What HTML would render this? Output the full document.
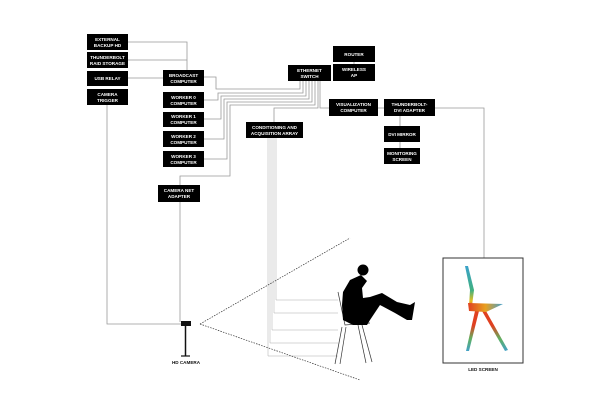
<!DOCTYPE html>
<html><head><meta charset="utf-8"><style>
html,body{margin:0;padding:0;background:#fff;width:600px;height:420px;overflow:hidden}
text{font-family:"Liberation Sans",sans-serif;font-weight:bold;font-size:4.6px;fill:#fff;text-anchor:middle}
.l{fill:#111}
</style></head><body>
<svg width="600" height="420" viewBox="0 0 600 420" xmlns="http://www.w3.org/2000/svg">
<g fill="none" stroke="#999" stroke-width="0.8">
<polyline points="128,42 187,42 187,70"/>
<polyline points="128,60 187,60"/>
<line x1="128" y1="78" x2="163" y2="78"/>
<polyline points="107,105 107,324 182,324"/>
<polyline points="204,77 216,77 216,89 300,89 300,81"/>
<polyline points="204,100 218,100 218,93 303,93 303,81"/>
<polyline points="204,119 221,119 221,96 306,96 306,81"/>
<polyline points="204,139 224,139 224,99 309,99 309,81"/>
<polyline points="204,159 227,159 227,102 312,102 312,81"/>
<polyline points="180,185 180,176 230,176 230,105 315,105 315,81"/>
<polyline points="274,122 274,108 318,108 318,81"/>
<polyline points="320,81 320,108 329,108"/>
<line x1="378" y1="108" x2="384" y2="108"/>
<polyline points="435,108 484,108 484,258"/>
<line x1="400" y1="116" x2="400" y2="126"/>
<line x1="400" y1="142" x2="400" y2="148"/>
<line x1="354" y1="62" x2="354" y2="64"/>
<line x1="180" y1="202" x2="180" y2="322"/>
</g>
<g fill="none" stroke="#aaa" stroke-width="0.5">
<line x1="268" y1="138" x2="268" y2="356"/>
<line x1="270" y1="138" x2="270" y2="343"/>
<line x1="272" y1="138" x2="272" y2="330"/>
<line x1="274" y1="138" x2="274" y2="313"/>
<line x1="276" y1="138" x2="276" y2="300"/>
<polyline points="276,300 338,300"/>
<polyline points="274,313 338,313"/>
<polyline points="272,330 338,330"/>
<polyline points="270,343 338,343"/>
<polyline points="268,356 338,356"/>
</g>
<g stroke="#333" stroke-width="0.7" stroke-dasharray="1.5,1.2" fill="none">
<line x1="200" y1="324" x2="350" y2="238"/>
<line x1="200" y1="324" x2="360" y2="380"/>
</g>
<g fill="#000">
<rect x="87" y="34" width="41" height="16"/>
<rect x="87" y="52" width="41" height="16"/>
<rect x="87" y="71" width="41" height="15"/>
<rect x="87" y="89" width="41" height="16"/>
<rect x="163" y="70" width="41" height="16"/>
<rect x="163" y="92" width="41" height="16"/>
<rect x="163" y="112" width="41" height="15"/>
<rect x="163" y="131" width="41" height="16"/>
<rect x="163" y="151" width="41" height="16"/>
<rect x="158" y="185" width="42" height="17"/>
<rect x="288" y="65" width="43" height="16"/>
<rect x="333" y="46" width="42" height="16"/>
<rect x="333" y="64" width="42" height="17"/>
<rect x="246" y="122" width="57" height="16"/>
<rect x="329" y="99" width="49" height="17"/>
<rect x="384" y="99" width="51" height="17"/>
<rect x="384" y="126" width="36" height="16"/>
<rect x="384" y="148" width="36" height="16"/>
</g>
<text x="107.5" y="41">EXTERNAL</text><text x="107.5" y="47">BACKUP HD</text>
<text x="107.5" y="59">THUNDERBOLT</text><text x="107.5" y="65">RAID STORAGE</text>
<text x="107.5" y="80">USB RELAY</text>
<text x="107.5" y="96">CAMERA</text><text x="107.5" y="102">TRIGGER</text>
<text x="183.5" y="77">BROADCAST</text><text x="183.5" y="83">COMPUTER</text>
<text x="183.5" y="99">WORKER 0</text><text x="183.5" y="105">COMPUTER</text>
<text x="183.5" y="118">WORKER 1</text><text x="183.5" y="124">COMPUTER</text>
<text x="183.5" y="138">WORKER 2</text><text x="183.5" y="144">COMPUTER</text>
<text x="183.5" y="158">WORKER 3</text><text x="183.5" y="164">COMPUTER</text>
<text x="179" y="192">CAMERA NET</text><text x="179" y="198">ADAPTER</text>
<text x="309.5" y="72">ETHERNET</text><text x="309.5" y="78">SWITCH</text>
<text x="354" y="56">ROUTER</text>
<text x="354" y="71">WIRELESS</text><text x="354" y="77">AP</text>
<text x="274.5" y="129">CONDITIONING AND</text><text x="274.5" y="135">ACQUISITION ARRAY</text>
<text x="353.5" y="106">VISUALIZATION</text><text x="353.5" y="112">COMPUTER</text>
<text x="409.5" y="106">THUNDERBOLT-</text><text x="409.5" y="112">DVI ADAPTER</text>
<text x="402" y="136">DVI MIRROR</text>
<text x="402" y="155">MONITORING</text><text x="402" y="161">SCREEN</text>
<!-- camera -->
<rect x="181" y="321" width="10" height="5" fill="#111"/>
<line x1="185.5" y1="326" x2="185.5" y2="356" stroke="#111" stroke-width="1.5"/>
<line x1="181" y1="356" x2="190" y2="356" stroke="#111" stroke-width="1.2"/>
<text class="l" x="186" y="364">HD CAMERA</text>
<!-- LED screen -->
<rect x="443" y="258" width="80" height="105" fill="#fff" stroke="#333" stroke-width="1"/>
<text class="l" x="483" y="371">LED SCREEN</text>
<defs><linearGradient id="g" gradientUnits="userSpaceOnUse" x1="0" y1="264" x2="0" y2="352"><stop offset="0" stop-color="#3aa0d0"/><stop offset="0.3" stop-color="#40b080"/><stop offset="0.42" stop-color="#e8c020"/><stop offset="0.5" stop-color="#e04020"/><stop offset="0.7" stop-color="#e04020"/><stop offset="0.85" stop-color="#60b060"/><stop offset="1" stop-color="#40a0d0"/></linearGradient>
<linearGradient id="h" gradientUnits="userSpaceOnUse" x1="468" y1="0" x2="503" y2="0"><stop offset="0" stop-color="#e04020"/><stop offset="0.5" stop-color="#e8a020"/><stop offset="1" stop-color="#40a0d0"/></linearGradient></defs>
<g fill="url(#g)">
<polygon points="465,266 468,266 474,290 472,306 469,306 470,290"/>
<polygon points="475,311 479,311 469,351 466,351"/>
<polygon points="482,311 486,311 508,350 505,351"/>
</g>
<polygon points="468,303 503,304 486,312 469,311" fill="url(#h)"/>
<!-- chair -->
<g stroke="#333" stroke-width="0.7" fill="none">
<polyline points="338,292 345,325 370,323"/>
<line x1="342" y1="327" x2="335" y2="364"/>
<line x1="346" y1="327" x2="340" y2="364"/>
<line x1="362" y1="325" x2="372" y2="362"/>
<line x1="358" y1="325" x2="366" y2="363"/>
</g>
<!-- person -->
<circle cx="363" cy="270" r="5.5" fill="#000"/>
<path fill="#000" d="M361,275 L350,280 L343,292 L342,305 L343,320 L353,325 L367,325 L370,320 L380,305 L395,313 L407,320 L412,320 L415,302 L410,305 L397,302 L382,293 L370,297 L363,298 L362,288 L367,281 Z"/>
</svg>
</body></html>
